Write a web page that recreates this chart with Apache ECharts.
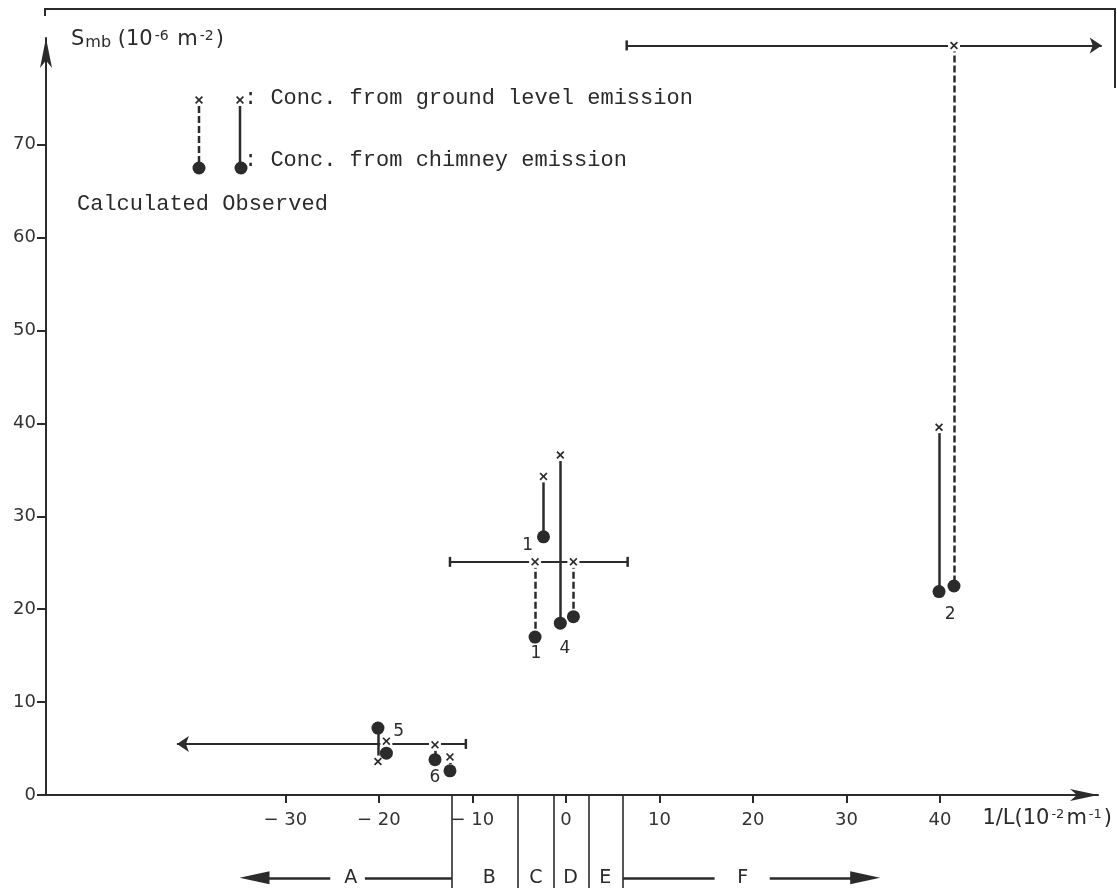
<!DOCTYPE html>
<html>
<head>
<meta charset="utf-8">
<title>Smb against 1/L</title>
<script src="https://cdn.jsdelivr.net/npm/echarts@6/dist/echarts.min.js"></script>
<style>
  html, body { margin: 0; padding: 0; background: #fff; }
  #chart { width: 1117px; height: 888px; }
</style>
</head>
<body>
<div id="chart"></div>
<script>
// each run: a vertical bar from ground level conc. (x) to chimney conc. (dot)
const runIds      = ['1', '4', '2', '5', '6'];
const calcX       = [-3.3, 0.8, 41.5, -19.2, -12.4];
const calcGround  = [25.1, 25.1, 80.7, 5.8, 4.1];
const calcChimney = [17.0, 19.2, 22.5, 4.5, 2.6];
const obsX        = [-2.4, -0.6, 39.9, -20.1, -14.0];
const obsGround   = [34.3, 36.6, 39.6, 3.6, 5.4];
const obsChimney  = [27.8, 18.5, 21.9, 7.2, 3.8];

// 1/L ranges (horizontal bars), 'lo' / 'hi' = open end with an arrow
const rangeY     = [25.1, 80.7, 5.5];
const rangeLo    = [-12.4, 6.5, -41.6];
const rangeHi    = [6.6, 57.3, -10.7];
const rangeArrow = ['none', 'hi', 'lo'];

// run numbers written next to the bars
const tagText = ['1', '1', '4', '2', '5', '6'];
const tagX    = [-4.1, -3.2, -0.1, 41.1, -17.9, -14.0];
const tagY    = [26.9, 15.2, 15.8, 19.4, 6.8, 1.9];

// stability classes under the axis
const classBounds = [-12.2, -5.1, -1.3, 2.4, 6.1];
const classNames  = ['A', 'B', 'C', 'D', 'E', 'F'];
const classMid    = [-23.0, -8.2, -3.2, 0.5, 4.2, 18.9];
const classArrows = [[-33.3, -25.2], [-21.5, -12.2], [6.1, 15.9], [21.8, 32.0]];

// ticks
const xTicks = [-30, -20, -10, 0, 10, 20, 30, 40];
const yTicks = [0, 10, 20, 30, 40, 50, 60, 70];

const X_MIN = -55.6, X_MAX = 56.9, Y_MAX = 81.5;
const ink = '#2b2b2b';
const xMark = 'path://M0,1.5L1.5,0L5,3.5L8.5,0L10,1.5L6.5,5L10,8.5L8.5,10L5,6.5L1.5,10L0,8.5L3.5,5Z';
const bigArrow = 'path://M5,0L10,24L0,24Z';
const axisFont = { fontSize: 18, color: '#333', fontFamily: 'DejaVu Sans' };

function bars(xs, tops, bottoms) {
  return xs.map((x, i) => ({ coords: [[x, tops[i]], [x, bottoms[i]]] }));
}
function points(xs, ys) {
  return xs.map((x, i) => [x, ys[i]]);
}
// small "x" glyph for the legend
function xGlyph(cx, cy) {
  const s = 0.8;
  const p = [[0,1.5],[1.5,0],[5,3.5],[8.5,0],[10,1.5],[6.5,5],[10,8.5],[8.5,10],[5,6.5],[1.5,10],[0,8.5],[3.5,5]];
  return { type: 'polygon', shape: { points: p.map(q => [cx + (q[0] - 5) * s, cy + (q[1] - 5) * s]) }, style: { fill: ink } };
}

const rangeLines = rangeY.map((y, i) => ({
  coords: [[rangeLo[i], y], [rangeHi[i], y]],
  symbol: [rangeArrow[i] === 'lo' ? 'arrow' : 'none', rangeArrow[i] === 'hi' ? 'arrow' : 'none']
}));
const rangeCaps = [];
rangeY.forEach((y, i) => {
  if (rangeArrow[i] !== 'lo') rangeCaps.push([rangeLo[i], y]);
  if (rangeArrow[i] !== 'hi') rangeCaps.push([rangeHi[i], y]);
});

const allGround = points(calcX, calcGround).concat(points(obsX, obsGround));
const allChimney = points(calcX, calcChimney).concat(points(obsX, obsChimney));

const chart = echarts.init(document.getElementById('chart'));

const option = {
  animation: false,
  backgroundColor: '#fff',
  grid: [
    { left: 46, right: 19, top: 38, bottom: 93 },
    { left: 46, right: 19, top: 795, bottom: 0 }
  ],
  xAxis: [
    {
      type: 'value', gridIndex: 0, min: X_MIN, max: X_MAX,
      axisLine: { onZero: false, symbol: ['none', 'arrow'], symbolSize: [9, 28], lineStyle: { color: ink, width: 2 } },
      axisTick: { customValues: xTicks, length: 8, lineStyle: { color: ink, width: 2 } },
      axisLabel: Object.assign({
        customValues: xTicks, margin: 16,
        formatter: v => (v < 0 ? '\u2212 ' + Math.abs(v) : String(v))
      }, axisFont),
      splitLine: { show: false }
    },
    { type: 'value', gridIndex: 1, min: X_MIN, max: X_MAX, show: false }
  ],
  yAxis: [
    {
      type: 'value', gridIndex: 0, min: 0, max: Y_MAX,
      axisLine: { show: true, onZero: false, symbol: ['none', 'arrow'], symbolSize: [9, 30], lineStyle: { color: ink, width: 2 } },
      axisTick: { show: true, customValues: yTicks, length: 9, lineStyle: { color: ink, width: 2 } },
      axisLabel: Object.assign({ customValues: yTicks, margin: 10 }, axisFont),
      splitLine: { show: false }
    },
    { type: 'value', gridIndex: 1, min: 0, max: 1, show: false }
  ],
  series: [
    {
      name: 'calculated', type: 'lines', coordinateSystem: 'cartesian2d', z: 2,
      lineStyle: { color: ink, width: 2.5, type: [7, 3], opacity: 1 },
      data: bars(calcX, calcGround, calcChimney)
    },
    {
      name: 'observed', type: 'lines', coordinateSystem: 'cartesian2d', z: 2,
      lineStyle: { color: ink, width: 2.5, opacity: 1 },
      data: bars(obsX, obsGround, obsChimney)
    },
    {
      name: '1/L range', type: 'lines', coordinateSystem: 'cartesian2d', z: 2, clip: false,
      symbolSize: 12,
      lineStyle: { color: ink, width: 2, opacity: 1 },
      data: rangeLines
    },
    {
      name: 'caps', type: 'scatter', z: 3, symbol: 'rect', symbolSize: [2.5, 10],
      itemStyle: { color: ink, opacity: 1 }, data: rangeCaps
    },
    {
      name: 'gaps', type: 'scatter', z: 4, symbol: 'rect', symbolSize: 12,
      itemStyle: { color: '#fff', opacity: 1 }, data: allGround
    },
    {
      name: 'ground level', type: 'scatter', z: 5, symbol: xMark, symbolSize: 8,
      itemStyle: { color: ink, opacity: 1 }, data: allGround
    },
    {
      name: 'chimney', type: 'scatter', z: 5, symbol: 'circle', symbolSize: 13,
      itemStyle: { color: ink, opacity: 1 }, data: allChimney
    },
    {
      name: 'runs', type: 'scatter', z: 5, symbolSize: 0,
      itemStyle: { opacity: 1 },
      label: { show: true, position: 'inside', formatter: '{b}', fontSize: 17, color: ink, fontFamily: 'DejaVu Sans' },
      data: tagText.map((t, i) => ({ name: t, value: [tagX[i], tagY[i]] }))
    },
    // stability classes
    {
      name: 'class bounds', type: 'lines', coordinateSystem: 'cartesian2d', xAxisIndex: 1, yAxisIndex: 1,
      lineStyle: { color: ink, width: 1.6, opacity: 1 },
      data: classBounds.map(x => ({ coords: [[x, 0], [x, 1]] }))
    },
    {
      name: 'class arrows', type: 'lines', coordinateSystem: 'cartesian2d', xAxisIndex: 1, yAxisIndex: 1,
      symbolSize: [[13, 30], [13, 30]], clip: false,
      lineStyle: { color: ink, width: 2.5, opacity: 1 },
      data: classArrows.map((seg, i) => ({
        coords: [[seg[0], 0.11], [seg[1], 0.11]],
        symbol: [i === 0 ? bigArrow : 'none', i === classArrows.length - 1 ? bigArrow : 'none']
      }))
    },
    {
      name: 'class names', type: 'scatter', xAxisIndex: 1, yAxisIndex: 1, symbolSize: 0,
      itemStyle: { opacity: 1 },
      label: { show: true, position: 'inside', formatter: '{b}', fontSize: 19, color: ink, fontFamily: 'DejaVu Sans' },
      data: classNames.map((c, i) => ({ name: c, value: [classMid[i], 0.11] }))
    }
  ],
  graphic: [
    { type: 'polyline', shape: { points: [[45, 16], [45, 9], [1115, 9], [1115, 88]] }, style: { stroke: ink, lineWidth: 2, fill: null } },
    {
      type: 'text', left: 71, top: 29,
      style: {
        text: '{b|S}{sub|mb}  {b|(10}{sup|-6}{b| m}{sup|-2}{b|)}',
        rich: {
          b: { fontSize: 21, fontFamily: 'DejaVu Sans', fill: ink },
          sub: { fontSize: 16, fontFamily: 'DejaVu Sans', fill: ink, verticalAlign: 'bottom', padding: [6, 0, 0, 1] },
          sup: { fontSize: 14, fontFamily: 'DejaVu Sans', fill: ink, verticalAlign: 'top', padding: [0, 2, 0, 2] }
        }
      }
    },
    {
      type: 'text', right: 5, top: 808,
      style: {
        text: '{b|1/L(10}{sup|-2}{b|m}{sup|-1}{b|)}',
        rich: {
          b: { fontSize: 21, fontFamily: 'DejaVu Sans', fill: ink },
          sup: { fontSize: 13, fontFamily: 'DejaVu Sans', fill: ink, verticalAlign: 'top', padding: [0, 2, 0, 2] }
        }
      }
    },
    // legend
    { type: 'line', shape: { x1: 199, y1: 106, x2: 199, y2: 162 }, style: { stroke: ink, lineWidth: 2.5, lineDash: [7, 3] } },
    { type: 'line', shape: { x1: 240, y1: 106, x2: 240, y2: 162 }, style: { stroke: ink, lineWidth: 2.5 } },
    xGlyph(199, 100),
    xGlyph(240, 100),
    { type: 'circle', shape: { cx: 199, cy: 168, r: 6.5 }, style: { fill: ink } },
    { type: 'circle', shape: { cx: 241, cy: 168, r: 6.5 }, style: { fill: ink } },
    { type: 'text', left: 244, top: 87, style: { text: ': Conc. from ground level emission', font: '22px "Liberation Mono"', fill: ink } },
    { type: 'text', left: 244, top: 149, style: { text: ': Conc. from chimney emission', font: '22px "Liberation Mono"', fill: ink } },
    { type: 'text', left: 77, top: 193, style: { text: 'Calculated Observed', font: '22px "Liberation Mono"', fill: ink } }
  ]
};

chart.setOption(option);
</script>
</body>
</html>
